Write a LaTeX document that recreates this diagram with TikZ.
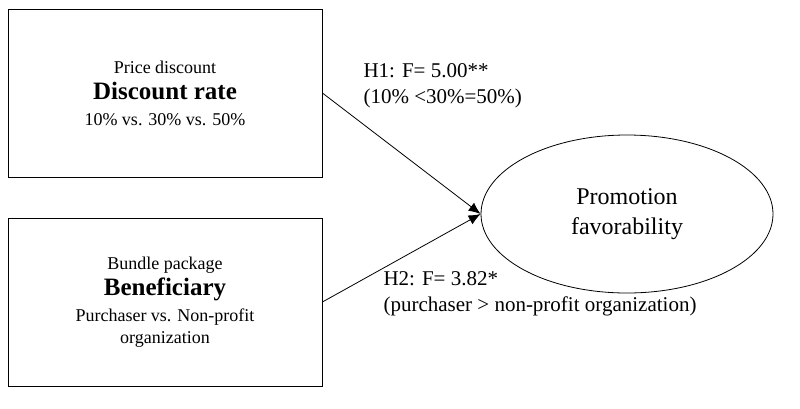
\documentclass[tikz,border=0pt]{standalone}
\usepackage{fontspec}
\setmainfont{Liberation Serif}
\usetikzlibrary{arrows.meta,shapes.geometric}
\begin{document}
\begin{tikzpicture}[x=1pt,y=-1pt,
    factor/.style={draw,thick,minimum width=314pt,minimum height=168pt,align=center,inner sep=0pt,font=\fontsize{18}{26}\selectfont},
    outcome/.style={draw,thick,ellipse,minimum width=292pt,minimum height=158pt,align=center,font=\fontsize{24}{30}\selectfont},
    effect/.style={align=left,anchor=west,font=\fontsize{21}{26}\selectfont},
    link/.style={thick,-{Latex[length=12pt,width=10pt]}}]
    \useasboundingbox (0,0) rectangle (800,408);
    % boxes
    \node[factor] (discount) at (165,93) {Price discount\\
        {\fontsize{25}{26}\selectfont\bfseries Discount rate}\\
        10\% vs. 30\% vs. 50\%};
    \node[factor] (bundle) at (165,302) {Bundle package\\
        {\fontsize{25}{26}\selectfont\bfseries Beneficiary}\\
        Purchaser vs. Non-profit\\[-4pt]
        organization};
    \node[outcome] (favor) at (627,214) {Promotion\\favorability};
    % hypotheses
    \draw[link] (discount.east) -- (favor.west);
    \draw[link] (bundle.east) -- (favor.west);
    \node[effect] (h1) at (360,86) {H1: F= 5.00**\\(10\% <30\%=50\%)};
    \node[effect] (h2) at (380,294) {H2: F= 3.82*\\(purchaser > non-profit organization)};
\end{tikzpicture}
\end{document}
